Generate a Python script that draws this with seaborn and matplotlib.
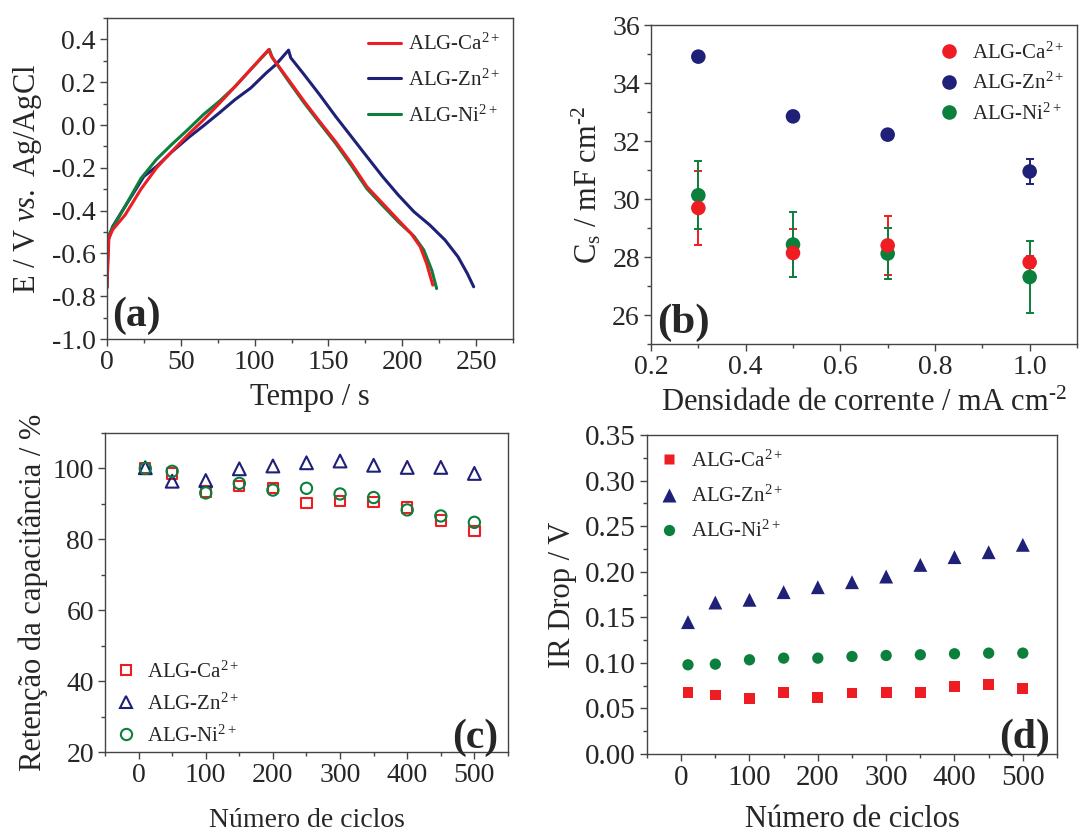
import numpy as np
import pandas as pd
import matplotlib
matplotlib.use("Agg")
import matplotlib.pyplot as plt
import seaborn as sns
from matplotlib.ticker import MultipleLocator
from matplotlib.lines import Line2D

# ---------------- data ----------------
series = ["ALG-Ca$^{2+}$", "ALG-Zn$^{2+}$", "ALG-Ni$^{2+}$"]
colors = {"Ca": "#EE1D23", "Zn": "#1F2078", "Ni": "#0B7F3C"}

# (a) galvanostatic charge/discharge
t_ca = [0, 1.3, 3.8, 12.3, 23, 33.6, 44, 55, 65.5, 76, 86.8, 97.4, 109.5, 111.5, 122.9, 133.5,
        144, 154.8, 165.4, 176, 186.7, 197.3, 205.9, 212.2, 216.5, 220.7]
v_ca = [-0.756, -0.53, -0.49, -0.42, -0.30, -0.20, -0.123, -0.045, 0.025, 0.10, 0.18, 0.26, 0.352,
        0.32, 0.2125, 0.111, 0.017, -0.077, -0.178, -0.2875, -0.366, -0.444, -0.506, -0.569, -0.647, -0.748]
t_ni = [0, 0.8, 3.8, 12.3, 23, 33.6, 44, 55, 65.5, 76, 86.8, 97.4, 110, 112, 123, 133.5,
        144, 154.8, 165.4, 176, 186.7, 197.3, 208, 214.6, 220, 223.3]
v_ni = [-0.76, -0.52, -0.48, -0.38, -0.25, -0.16, -0.09, -0.02, 0.05, 0.11, 0.18, 0.26, 0.353,
        0.315, 0.205, 0.104, 0.01, -0.085, -0.188, -0.297, -0.376, -0.452, -0.52, -0.584, -0.678, -0.764]
t_zn = [0, 0.8, 3.8, 12.3, 18.7, 25, 33.6, 44, 55, 65.5, 76, 86.8, 97.4, 108, 114.5, 123, 124.5,
        133.5, 144, 154.8, 165.4, 176, 186.7, 197.3, 207.9, 218.6, 229, 237.8, 244.1, 248.4]
v_zn = [-0.76, -0.54, -0.475, -0.38, -0.31, -0.24, -0.194, -0.125, -0.06, -0.003, 0.056, 0.119,
        0.173, 0.244, 0.283, 0.35, 0.314, 0.236, 0.142, 0.041, -0.053, -0.147, -0.241, -0.327,
        -0.405, -0.467, -0.5375, -0.616, -0.694, -0.756]

# (b) specific capacitance vs current density
j = [0.3, 0.5, 0.7, 1.0]
cs_ca = [29.69, 28.14, 28.40, 27.82]
err_ca = [1.26, 0.83, 1.02, 0.2]
cs_zn = [34.91, 32.85, 32.22, 30.95]
err_zn = [0.0, 0.0, 0.0, 0.42]
cs_ni = [30.13, 28.43, 28.12, 27.31]
err_ni = [1.17, 1.11, 0.87, 1.24]

# (c) capacitance retention, (d) IR drop
cycles = [10, 50, 100, 150, 200, 250, 300, 350, 400, 450, 500]
ret_ca = [100.2, 98.6, 93.5, 95.0, 94.4, 90.3, 90.8, 90.6, 89.0, 85.3, 82.4]
ret_zn = [100.2, 96.4, 96.6, 99.9, 100.7, 101.6, 102.1, 100.9, 100.3, 100.3, 98.6]
ret_ni = [100.0, 99.2, 93.1, 95.8, 93.9, 94.4, 92.8, 91.8, 88.3, 86.6, 84.8]
ir_ca = [0.0676, 0.0647, 0.0607, 0.0676, 0.0621, 0.0669, 0.0676, 0.0676, 0.0738, 0.0760, 0.0720]
ir_zn = [0.1447, 0.1662, 0.1692, 0.1776, 0.1830, 0.1885, 0.1947, 0.2075, 0.2160, 0.2214, 0.2295]
ir_ni = [0.0979, 0.0986, 0.1034, 0.1052, 0.1052, 0.1070, 0.1081, 0.1089, 0.1100, 0.1107, 0.1107]

# ---------------- style ----------------
sns.set_style("ticks")
plt.rcParams["font.family"] = ["Liberation Serif", "DejaVu Serif"]
plt.rcParams["mathtext.fontset"] = "custom"
plt.rcParams["mathtext.rm"] = "Liberation Serif"
plt.rcParams["mathtext.it"] = "Liberation Serif:italic"
plt.rcParams["mathtext.bf"] = "Liberation Serif:bold"
SPINE = "#444444"

fig = plt.figure(figsize=(10.87, 8.34), dpi=100)
axa = fig.add_axes([0.0984, 0.5935, 0.3735, 0.3849])
axb = fig.add_axes([0.5989, 0.5875, 0.3919, 0.3825])
axc = fig.add_axes([0.0966, 0.0983, 0.3707, 0.3825])
axd = fig.add_axes([0.5952, 0.0959, 0.3772, 0.3825])


def style(ax, tick_fs=20):
    for s in ax.spines.values():
        s.set_color(SPINE)
        s.set_linewidth(1.0)
    ax.tick_params(which="major", direction="out", length=5, width=1.0, color=SPINE,
                   labelsize=tick_fs, pad=3)
    ax.tick_params(which="minor", direction="out", length=3, width=1.0, color=SPINE)


def fmt(v, nd):
    s = f"{round(v, nd):.{nd}f}"
    return s.replace("-0.0", "0.0") if abs(v) < 1e-9 else s


# ---- (a)
for key, tt, vv in [("Zn", t_zn, v_zn), ("Ni", t_ni, v_ni), ("Ca", t_ca, v_ca)]:
    d = pd.DataFrame({"t": tt, "V": vv})
    sns.lineplot(data=d, x="t", y="V", sort=False, estimator=None, color=colors[key],
                 lw=2.2, ax=axa)
axa.set_xlim(0, 275)
axa.set_ylim(-1.0, 0.5)
axa.xaxis.set_major_locator(MultipleLocator(50))
axa.xaxis.set_minor_locator(MultipleLocator(25))
yt = [-1.0, -0.8, -0.6, -0.4, -0.2, 0.0, 0.2, 0.4]
axa.set_yticks(yt)
axa.set_yticklabels([fmt(v, 1) for v in yt])
axa.yaxis.set_minor_locator(MultipleLocator(0.1))
style(axa)
axa.set_xlabel("Tempo / s", fontsize=22, labelpad=6)
axa.set_ylabel(r"E / V $\mathit{vs.}$ Ag/AgCl", fontsize=22, labelpad=6)
h = [Line2D([], [], color=colors[k], lw=2.2) for k in ["Ca", "Zn", "Ni"]]
axa.legend(h, series, loc="upper right", bbox_to_anchor=(1.0, 0.99), frameon=False,
           fontsize=15, handlelength=1.6, handletextpad=0.35, labelspacing=0.7,
           borderaxespad=0.2)
axa.text(0.012, 0.04, "(a)", transform=axa.transAxes, fontsize=30, fontweight="bold",
         va="baseline", ha="left")

# ---- (b)
for key, yy, ee in [("Zn", cs_zn, err_zn), ("Ca", cs_ca, err_ca), ("Ni", cs_ni, err_ni)]:
    axb.errorbar(j, yy, yerr=ee, fmt="none", ecolor=colors[key], elinewidth=1.4,
                 capsize=3, capthick=1.4, zorder=2)
for key, yy in [("Zn", cs_zn), ("Ni", cs_ni), ("Ca", cs_ca)]:
    sns.scatterplot(x=j, y=yy, color=colors[key], s=110, edgecolor="none", ax=axb, zorder=3)
axb.set_xlim(0.2, 1.1)
axb.set_ylim(25, 36)
axb.set_xticks([0.2, 0.4, 0.6, 0.8, 1.0])
axb.set_xticklabels(["0.2", "0.4", "0.6", "0.8", "1.0"])
axb.xaxis.set_minor_locator(MultipleLocator(0.1))
axb.set_yticks([26, 28, 30, 32, 34, 36])
axb.yaxis.set_minor_locator(MultipleLocator(1))
style(axb)
axb.set_xlabel(r"Densidade de corrente / mA cm$^{\text{-}2}$", fontsize=22, labelpad=6)
axb.set_ylabel(r"C$_{\mathrm{s}}$ / mF cm$^{\text{-}2}$", fontsize=22, labelpad=6)
h = [Line2D([], [], color=colors[k], marker="o", ls="none", markersize=10.5, mec="none")
     for k in ["Ca", "Zn", "Ni"]]
axb.legend(h, series, loc="upper right", bbox_to_anchor=(1.0, 0.985), frameon=False,
           fontsize=15, handlelength=1.0, handletextpad=0.6, labelspacing=0.45,
           borderaxespad=0.2)
axb.text(0.014, 0.034, "(b)", transform=axb.transAxes, fontsize=31, fontweight="bold",
         va="baseline", ha="left")

# ---- (c)
for key, yy, m, s in [("Ca", ret_ca, "s", 55), ("Zn", ret_zn, "^", 85), ("Ni", ret_ni, "o", 66)]:
    sns.scatterplot(x=cycles, y=yy, marker=m, s=s, color=colors[key], ax=axc)
    coll = axc.collections[-1]
    coll.set_facecolor("none")
    coll.set_edgecolor(colors[key])
    coll.set_linewidth(1.5)
axc.set_xlim(-50, 550)
axc.set_ylim(20, 110)
axc.set_xticks([0, 100, 200, 300, 400, 500])
axc.xaxis.set_minor_locator(MultipleLocator(50))
axc.set_yticks([20, 40, 60, 80, 100])
axc.yaxis.set_minor_locator(MultipleLocator(10))
style(axc)
axc.set_xlabel("Número de ciclos", fontsize=20, labelpad=14)
axc.set_ylabel("Retenção da capacitância / %", fontsize=22, labelpad=3)
h = [Line2D([], [], color=colors[k], marker=m, ls="none", markersize=ms, mfc="none", mew=1.5)
     for k, m, ms in [("Ca", "s", 7.4), ("Zn", "^", 8.8), ("Ni", "o", 8.1)]]
axc.legend(h, series, loc="lower left", bbox_to_anchor=(0.0, -0.015), frameon=False,
           fontsize=15, handlelength=1.0, handletextpad=0.5, labelspacing=0.52,
           borderaxespad=0.1)
axc.text(0.975, 0.0125, "(c)", transform=axc.transAxes, fontsize=30, fontweight="bold",
         va="baseline", ha="right")

# ---- (d)
for key, yy, m, s in [("Ca", ir_ca, "s", 60), ("Zn", ir_zn, "^", 100), ("Ni", ir_ni, "o", 66)]:
    sns.scatterplot(x=cycles, y=yy, marker=m, s=s, color=colors[key], edgecolor="none", ax=axd)
axd.set_xlim(-50, 550)
axd.set_ylim(0, 0.35)
yt = [0.0, 0.05, 0.10, 0.15, 0.20, 0.25, 0.30, 0.35]
axd.set_yticks(yt)
axd.set_yticklabels([fmt(v, 2) for v in yt])
axd.yaxis.set_minor_locator(MultipleLocator(0.025))
axd.set_xticks([0, 100, 200, 300, 400, 500])
axd.xaxis.set_minor_locator(MultipleLocator(50))
style(axd, tick_fs=21)
axd.set_xlabel("Número de ciclos", fontsize=22, labelpad=10)
axd.set_ylabel("IR Drop / V", fontsize=22, labelpad=6)
h = [Line2D([], [], color=colors[k], marker=m, ls="none", markersize=ms, mec="none")
     for k, m, ms in [("Ca", "s", 7.7), ("Zn", "^", 10), ("Ni", "o", 8.1)]]
axd.legend(h, series, loc="upper left", bbox_to_anchor=(0.0, 0.988), frameon=False,
           fontsize=15, handlelength=1.0, handletextpad=0.55, labelspacing=0.68,
           borderaxespad=0.15)
axd.text(0.983, 0.019, "(d)", transform=axd.transAxes, fontsize=30, fontweight="bold",
         va="baseline", ha="right")

fig.savefig("out.png", dpi=100)
